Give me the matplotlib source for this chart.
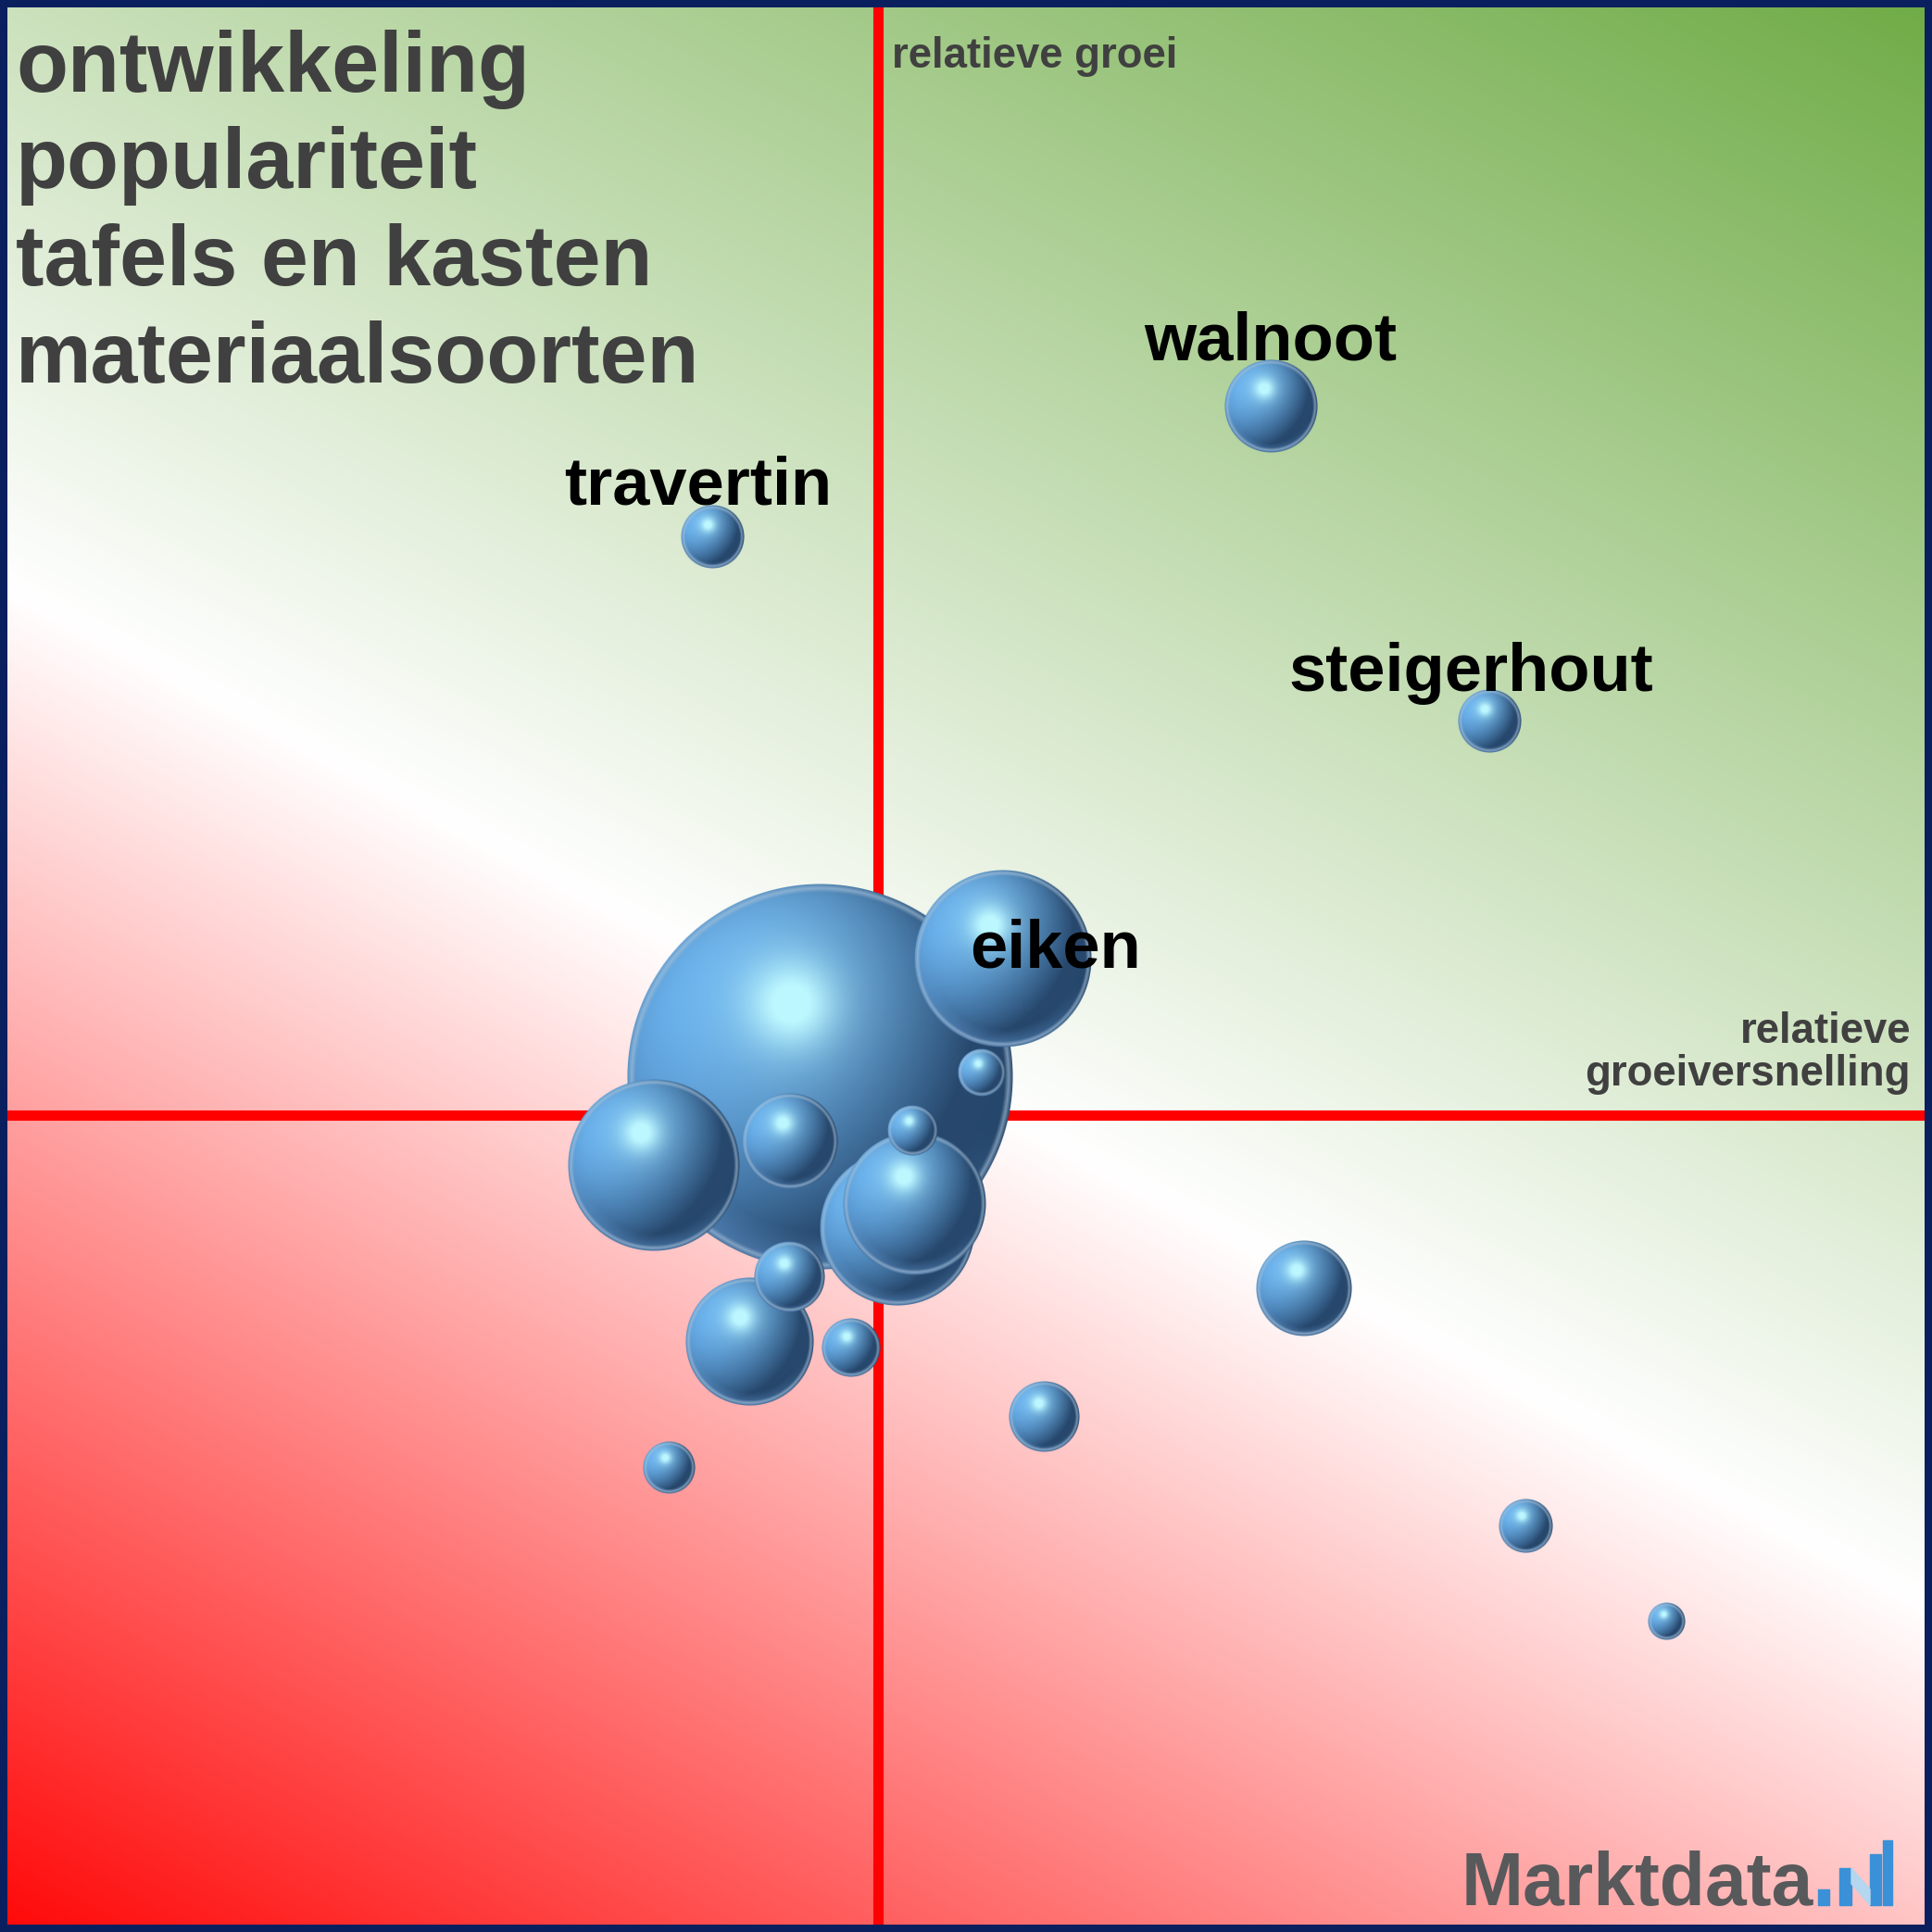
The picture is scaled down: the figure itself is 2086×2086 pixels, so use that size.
import numpy as np
import matplotlib
matplotlib.use("Agg")
import matplotlib.pyplot as plt
from matplotlib.patches import Rectangle, Polygon

# bubble data (x = relatieve groeiversnelling, y = relatieve groei, size = volume index)
labels = ["", "eiken", "", "", "", "", "", "", "walnoot", "", "",
          "travertin", "steigerhout", "", "", "", "", "", ""]
x_vals = [-3.0, 6.5, -11.7, 1.0, 1.9, -6.7, -4.6, 22.2, 20.5, -4.6, 8.7,
          -8.6, 31.9, -1.4, 33.8, -10.9, 1.8, 5.4, 41.1]
y_vals = [2.0, 8.2, -2.6, -5.9, -4.6, -11.8, -1.35, -9.0, 37.0, -8.4, -15.7,
          30.2, 20.6, -12.1, -21.4, -18.4, -0.8, 2.25, -26.4]
sizes = [281, 59.5, 56, 45.5, 38.5, 31, 17.4, 17.4, 16.5, 9.6, 9.6,
         7.7, 7.7, 6.6, 5.5, 5.1, 4.8, 4.3, 2.6]

title_lines = ["ontwikkeling", "populariteit", "tafels en kasten", "materiaalsoorten"]
y_axis_label = "relatieve groei"
x_axis_label = "relatieve\ngroeiversnelling"

# label placement: anchor ("top" of bubble or "center"), offset in points
label_pos = {"travertin": ("top", -11.5, 0), "walnoot": ("top", 0, 0),
             "steigerhout": ("top", -14, -2), "eiken": ("center", 41, -7)}

W = 2086
DPI = 100
XLIM = (-45.4, 54.6)
YLIM = (-42.2, 57.8)
R_SCALE = 0.6  # radius = R_SCALE * sqrt(size)
FONT = "Liberation Sans"


def fx(px):
    return px / W


def fy(py):
    return 1 - py / W


def background(n=800):
    u, v = np.meshgrid(np.linspace(0, 1, n), np.linspace(0, 1, n))
    t = (0.53 * u + v) / 1.53
    tw = 0.456
    red = np.array([1.0, 0.04, 0.04])
    white = np.array([1.0, 1.0, 1.0])
    green = np.array([0.44, 0.675, 0.28])
    a = np.clip(t / tw, 0, 1)[..., None]
    b = np.clip((t - tw) / (1 - tw), 0, 1)[..., None]
    low = red + (white - red) * a
    high = white + (green - white) * b
    return np.where((t < tw)[..., None], low, high)


def sphere_image(r_px):
    n = max(int(2 * r_px) + 2, 24)
    g = np.linspace(-1, 1, n)
    xx, yy = np.meshgrid(g, g[::-1])
    rho = np.hypot(xx, yy)
    zz = np.sqrt(np.clip(1 - rho ** 2, 0, 1))
    light = np.array([-0.6, 0.45, 0.65])
    light = light / np.linalg.norm(light)
    diffuse = np.clip(xx * light[0] + yy * light[1] + zz * light[2], 0, 1)
    dark = np.array([0.09, 0.18, 0.30])
    base = np.array([0.40, 0.68, 0.92])
    k = np.clip(0.2 + 0.8 * diffuse, 0, 1)[..., None]
    rgb = dark + (base - dark) * k
    # soft highlight
    dh = np.hypot(xx + 0.15, yy - 0.38)
    spec = np.clip(0.85 * np.exp(-(dh / 0.22) ** 2) + 0.3 * np.exp(-(dh / 0.5) ** 2), 0, 1)
    rgb = rgb + (np.array([0.74, 0.97, 1.0]) - rgb) * spec[..., None]
    # reflected light along the lower rim
    refl = np.clip((rho - 0.8) / 0.15, 0, 1) * np.clip(-0.9 * yy - 0.3 * xx, 0, 1) * 0.5
    rgb = rgb + (np.array([0.40, 0.62, 0.85]) - rgb) * refl[..., None]
    # light outline ring
    ring_w = (2.0 + 0.012 * r_px) / r_px
    ring = np.clip(1 - np.abs(rho - (1 - ring_w)) / ring_w, 0, 1) * 0.6
    rgb = rgb + (np.array([0.66, 0.76, 0.85]) - rgb) * ring[..., None]
    alpha = np.clip((1 - rho) * r_px + 0.5, 0, 1)
    return np.dstack([np.clip(rgb, 0, 1), alpha])


fig = plt.figure(figsize=(W / DPI, W / DPI), dpi=DPI, facecolor="#0a1f5e")
b = 8 / W
ax = fig.add_axes([b, b, 1 - 2 * b, 1 - 2 * b])
ax.set_axis_off()

ax.imshow(background(), extent=(*XLIM, *YLIM), origin="lower", aspect="auto",
          zorder=0, interpolation="bilinear")
ax.axvline(0, color="#ff0000", lw=8, zorder=2)
ax.axhline(0, color="#ff0000", lw=8, zorder=2)

px_per_unit = (1 - 2 * b) * W / (XLIM[1] - XLIM[0])
order = np.argsort(sizes)[::-1]
for k, i in enumerate(order):
    r = R_SCALE * np.sqrt(sizes[i])
    img = sphere_image(r * px_per_unit)
    ax.imshow(img, extent=(x_vals[i] - r, x_vals[i] + r, y_vals[i] - r, y_vals[i] + r),
              aspect="auto", interpolation="bilinear", zorder=10 + k)

for i, name in enumerate(labels):
    if not name:
        continue
    r = R_SCALE * np.sqrt(sizes[i])
    anchor, dx, dy = label_pos[name]
    yy = y_vals[i] + r if anchor == "top" else y_vals[i]
    ax.annotate(name, (x_vals[i], yy), xytext=(dx, dy), textcoords="offset points",
                ha="center", va="baseline", fontsize=52, fontweight="bold",
                family=FONT, color="black", zorder=100)

ax.set_xlim(XLIM)
ax.set_ylim(YLIM)

# title block
for line, base in zip(title_lines, [99, 203, 308, 413]):
    fig.text(fx(17), fy(base), line, ha="left", va="baseline", fontsize=66,
             fontweight="bold", family=FONT, color="#404040")

fig.text(fx(963), fy(73), y_axis_label, ha="left", va="baseline", fontsize=32.8,
         fontweight="bold", family=FONT, color="#404040")
fig.text(fx(2063), fy(1172), x_axis_label, ha="right", va="baseline", fontsize=32.8,
         fontweight="bold", family=FONT, color="#404040", linespacing=1.05,
         multialignment="right")

# logo
fig.text(fx(1578), fy(2057), "Marktdata", ha="left", va="baseline", fontsize=58,
         fontweight="bold", family=FONT, color="#58595b")
blue = "#3a91d7"
for x0, x1, y0 in [(1963, 1975, 2040), (1986, 1999, 2017), (2019, 2031, 2002), (2033, 2043, 1987)]:
    fig.patches.append(Rectangle((fx(x0), fy(2057)), fx(x1 - x0), (2057 - y0) / W,
                                 transform=fig.transFigure, color=blue, zorder=5))
fig.patches.append(Polygon([(fx(1999), fy(2017)), (fx(2019), fy(2040)), (fx(2019), fy(2057)),
                            (fx(1999), fy(2034))], closed=True, transform=fig.transFigure,
                           color="#b5d6ef", zorder=5))

fig.savefig("out.png", dpi=DPI, facecolor=fig.get_facecolor())
